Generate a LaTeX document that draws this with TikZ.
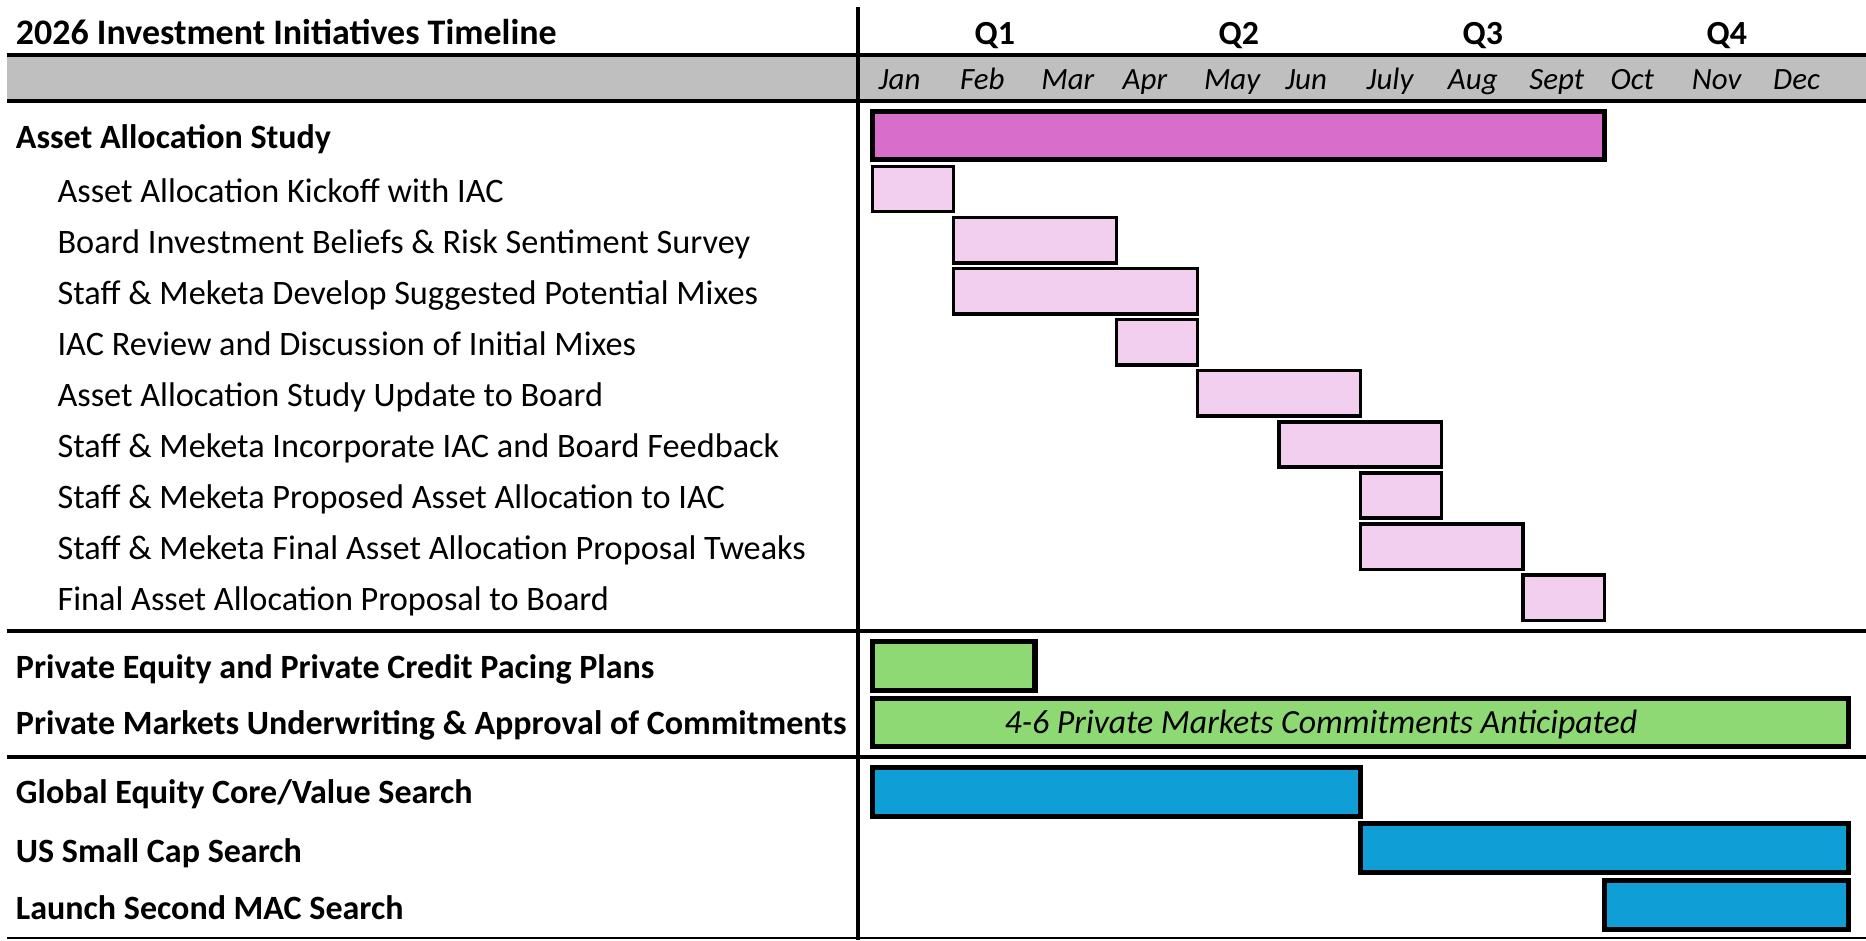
\documentclass[tikz,border=0pt]{standalone}
\usepackage{fontspec}
\setmainfont{Carlito}
\usetikzlibrary{positioning}
\definecolor{studycol}{HTML}{D86DCB}
\definecolor{taskcol}{HTML}{F2CFEE}
\definecolor{pmcol}{HTML}{8ED973}
\definecolor{searchcol}{HTML}{0F9ED5}
\definecolor{bandcol}{HTML}{BFBFBF}
\tikzset{
  mainbar/.style={draw=black, line width=2.2pt},
  taskbar/.style={draw=black, line width=1.4pt, fill=taskcol},
  heading/.style={anchor=base west, inner sep=0pt, font=\bfseries\fontsize{14.3}{16}\selectfont},
  task/.style={anchor=base west, inner sep=0pt, font=\fontsize{14.4}{16}\selectfont},
  monthlab/.style={anchor=base west, inner sep=0pt, font=\itshape\fontsize{13}{15}\selectfont},
  qlab/.style={anchor=base, inner sep=0pt, font=\bfseries\fontsize{14.2}{16}\selectfont},
  gridline/.style={line width=1.6pt},
}
\begin{document}
\begin{tikzpicture}[x=0.5pt, y=-0.5pt]
  \useasboundingbox (0,0) rectangle (1568,790);
  % header
  \fill[bandcol] (6,46) rectangle (1568,85);
  \draw[gridline] (6,46) -- (1568,46);
  \draw[gridline] (6,85) -- (1568,85);
  \draw[gridline] (6,530) -- (1568,530);
  \draw[gridline] (6,636) -- (1568,636);
  \draw[line width=1pt] (6,788) -- (1568,788);
  \draw[line width=1.3pt] (721,6) -- (721,790);
  \node[heading, font=\bfseries\fontsize{15.1}{16}\selectfont] (title) at (13,37) {2026 Investment Initiatives Timeline};
  \foreach \q [count=\i from 0] in {Q1,Q2,Q3,Q4}
    \node[qlab] (q\i) at ({836+205*\i},37) {\q};
  \foreach \m [count=\i from 0] in {Jan,Feb,Mar,Apr,May,Jun,July,Aug,Sept,Oct,Nov,Dec}
    \node[monthlab] (m\i) at ({738+68.33*\i},75) {\m};

  % asset allocation study
  \node[heading] (study) at (13,125) {Asset Allocation Study};
  \draw[mainbar, fill=studycol] (733,94) rectangle ({733+68.33*9},134);
  \foreach \lab/\a/\b [count=\r from 0] in {
      Asset Allocation Kickoff with IAC/0/1,
      Board Investment Beliefs \& Risk Sentiment Survey/1/3,
      Staff \& Meketa Develop Suggested Potential Mixes/1/4,
      IAC Review and Discussion of Initial Mixes/3/4,
      Asset Allocation Study Update to Board/4/6,
      Staff \& Meketa Incorporate IAC and Board Feedback/5/7,
      Staff \& Meketa Proposed Asset Allocation to IAC/6/7,
      Staff \& Meketa Final Asset Allocation Proposal Tweaks/6/8,
      Final Asset Allocation Proposal to Board/8/9} {
    \node[task] (task\r) at (48,{170+42.9*\r}) {\lab};
    \draw[taskbar] ({733+68.33*\a},{140+42.9*\r}) rectangle ({733+68.33*\b},{178+42.9*\r});
  }

  % private markets
  \node[heading] (pacing) at (13,570) {Private Equity and Private Credit Pacing Plans};
  \draw[mainbar, fill=pmcol] (733,539) rectangle ({733+68.33*2},580);
  \node[heading] (underwrite) at (13,617) {Private Markets Underwriting \& Approval of Commitments};
  \draw[mainbar, fill=pmcol] (733,587) rectangle ({733+68.33*12},627);
  \node[anchor=base, inner sep=0pt, font=\itshape\fontsize{14.2}{16}\selectfont] (commit) at (1110,616) {4-6 Private Markets Commitments Anticipated};

  % searches
  \node[heading] (global) at (13,675) {Global Equity Core/Value Search};
  \draw[mainbar, fill=searchcol] (733,645) rectangle ({733+68.33*6},686);
  \node[heading] (smallcap) at (13,725) {US Small Cap Search};
  \draw[mainbar, fill=searchcol] ({733+68.33*6},692) rectangle ({733+68.33*12},733);
  \node[heading] (mac) at (13,773) {Launch Second MAC Search};
  \draw[mainbar, fill=searchcol] ({733+68.33*9},740) rectangle ({733+68.33*12},781);
\end{tikzpicture}
\end{document}
